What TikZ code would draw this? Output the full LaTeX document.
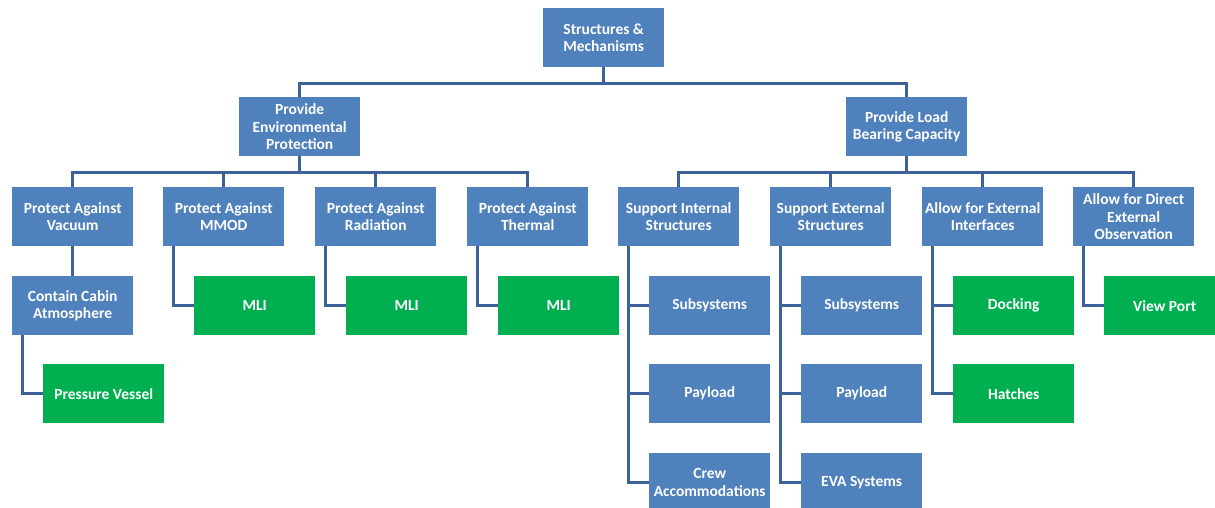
\documentclass[tikz,border=0pt]{standalone}
\usepackage{fontspec}
\setmainfont{Carlito}
\definecolor{boxblue}{HTML}{4F81BD}
\definecolor{boxgreen}{HTML}{00B050}
\definecolor{linkblue}{HTML}{3D6297}
\tikzset{
  base/.style={anchor=north west, minimum width=121pt, minimum height=59pt,
    inner sep=1pt, align=center, text=white,
    font=\fontsize{15.5}{17.5}\selectfont\bfseries},
  bluebox/.style={base, fill=boxblue},
  greenbox/.style={base, fill=boxgreen},
  conn/.style={draw=linkblue, line width=3pt}
}
\begin{document}
\begin{tikzpicture}[x=1pt, y=-1pt]
\useasboundingbox (0,0) rectangle (1215,507);
\clip (0,0) rectangle (1215,507);

% root and second level
\node[bluebox] (root) at (543,8) {Structures \&\\Mechanisms};
\node[bluebox] (env)  at (239,97) {Provide\\Environmental\\Protection};
\node[bluebox] (load) at (846,97) {Provide Load\\Bearing Capacity};

% third level
\node[bluebox] (vac)   at (12,187)   {Protect Against\\Vacuum};
\node[bluebox] (mmod)  at (163,187)  {Protect Against\\MMOD};
\node[bluebox] (rad)   at (315,187)  {Protect Against\\Radiation};
\node[bluebox] (therm) at (467,187)  {Protect Against\\Thermal};
\node[bluebox] (sint)  at (618,187)  {Support Internal\\Structures};
\node[bluebox] (sext)  at (770,187)  {Support External\\Structures};
\node[bluebox] (aext)  at (922,187)  {Allow for External\\Interfaces};
\node[bluebox] (aobs)  at (1073,187) {Allow for Direct\\External\\Observation};

% leaves
\node[bluebox]  (cabin)  at (12,276)   {Contain Cabin\\Atmosphere};
\node[greenbox] (pv)     at (43,364)   {Pressure Vessel};
\node[greenbox] (mli1)   at (194,276)  {MLI};
\node[greenbox] (mli2)   at (346,276)  {MLI};
\node[greenbox] (mli3)   at (498,276)  {MLI};
\node[bluebox]  (isub)   at (649,276)  {Subsystems};
\node[bluebox]  (ipay)   at (649,364)  {Payload};
\node[bluebox]  (icrew)  at (649,453)  {Crew\\Accommodations};
\node[bluebox]  (esub)   at (801,276)  {Subsystems};
\node[bluebox]  (epay)   at (801,364)  {Payload};
\node[bluebox]  (eeva)   at (801,453)  {EVA Systems};
\node[greenbox] (dock)   at (953,276)  {Docking};
\node[greenbox] (hatch)  at (953,364)  {Hatches};
\node[greenbox] (view)   at (1104,276) {View Port};

% tree connectors
\draw[conn] (root.south) -- ++(0,16) -| (env.north);
\draw[conn] (root.south) -- ++(0,16) -| (load.north);
\foreach \c in {vac,mmod,rad,therm}
  \draw[conn] (env.south) -- ++(0,16) -| (\c.north);
\foreach \c in {sint,sext,aext,aobs}
  \draw[conn] (load.south) -- ++(0,16) -| (\c.north);

% side connectors to leaves
\draw[conn] (vac.south) -- (cabin.north);
\draw[conn] ([xshift=10pt]cabin.south west) |- (pv.west);
\draw[conn] ([xshift=10pt]mmod.south west) |- (mli1.west);
\draw[conn] ([xshift=10pt]rad.south west) |- (mli2.west);
\draw[conn] ([xshift=10pt]therm.south west) |- (mli3.west);
\foreach \c in {isub,ipay,icrew}
  \draw[conn] ([xshift=10pt]sint.south west) |- (\c.west);
\foreach \c in {esub,epay,eeva}
  \draw[conn] ([xshift=10pt]sext.south west) |- (\c.west);
\foreach \c in {dock,hatch}
  \draw[conn] ([xshift=10pt]aext.south west) |- (\c.west);
\draw[conn] ([xshift=10pt]aobs.south west) |- (view.west);
\end{tikzpicture}
\end{document}
